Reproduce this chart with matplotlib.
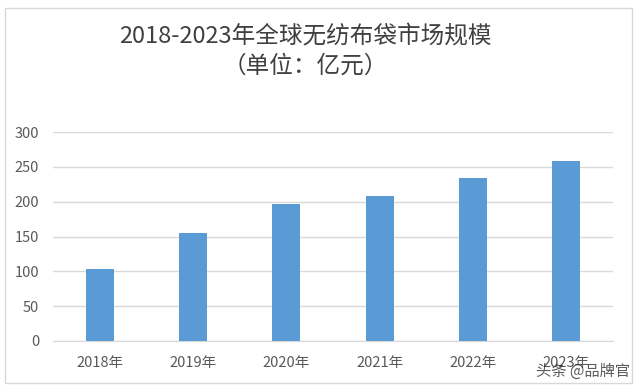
import matplotlib.pyplot as plt
from matplotlib.patches import Rectangle

plt.rcParams['font.family'] = ['Noto Sans CJK SC', 'DejaVu Sans']

years = ['2018年', '2019年', '2020年', '2021年', '2022年', '2023年']
market = [103, 155, 196, 208, 234, 258]
yticks = [0, 50, 100, 150, 200, 250, 300]

fig = plt.figure(figsize=(6.4, 3.91), dpi=100)
ax = fig.add_axes([53 / 640, 1 - 341 / 391, 560 / 640, 209 / 391])

# chart frame
fig.patches.append(Rectangle((5 / 640, 1 - 383 / 391), 627 / 640, 375 / 391,
                             transform=fig.transFigure, fill=False,
                             edgecolor='#d9d9d9', linewidth=1))

x = range(len(years))
ax.bar(x, market, width=0.3, color='#5b9bd5', zorder=3)

ax.set_xlim(-0.5, len(years) - 0.5)
ax.set_ylim(0, 300)
ax.set_yticks(yticks)
ax.set_xticks(list(x))
ax.set_xticklabels(years)
ax.grid(axis='y', color='#d9d9d9', linewidth=1, zorder=0)
for s in ['top', 'right', 'left']:
    ax.spines[s].set_visible(False)
ax.spines['bottom'].set_color('#d9d9d9')
ax.tick_params(length=0, colors='#595959', labelsize=10.5)
ax.tick_params(axis='x', pad=11)
ax.tick_params(axis='y', pad=10)

fig.text(305 / 640, 1 - 37 / 391, '2018-2023年全球无纺布袋市场规模',
         ha='center', va='center', fontsize=17, color='#404040', fontweight='light')
fig.text(305 / 640, 1 - 66 / 391, '（单位：亿元）',
         ha='center', va='center', fontsize=17, color='#404040', fontweight='light')

# watermark
fig.text(630 / 640, 1 - 371 / 391, '头条 @品牌官', ha='right', va='center',
         fontsize=11, color='#333333', alpha=0.8)

fig.savefig('out.png', dpi=100)
